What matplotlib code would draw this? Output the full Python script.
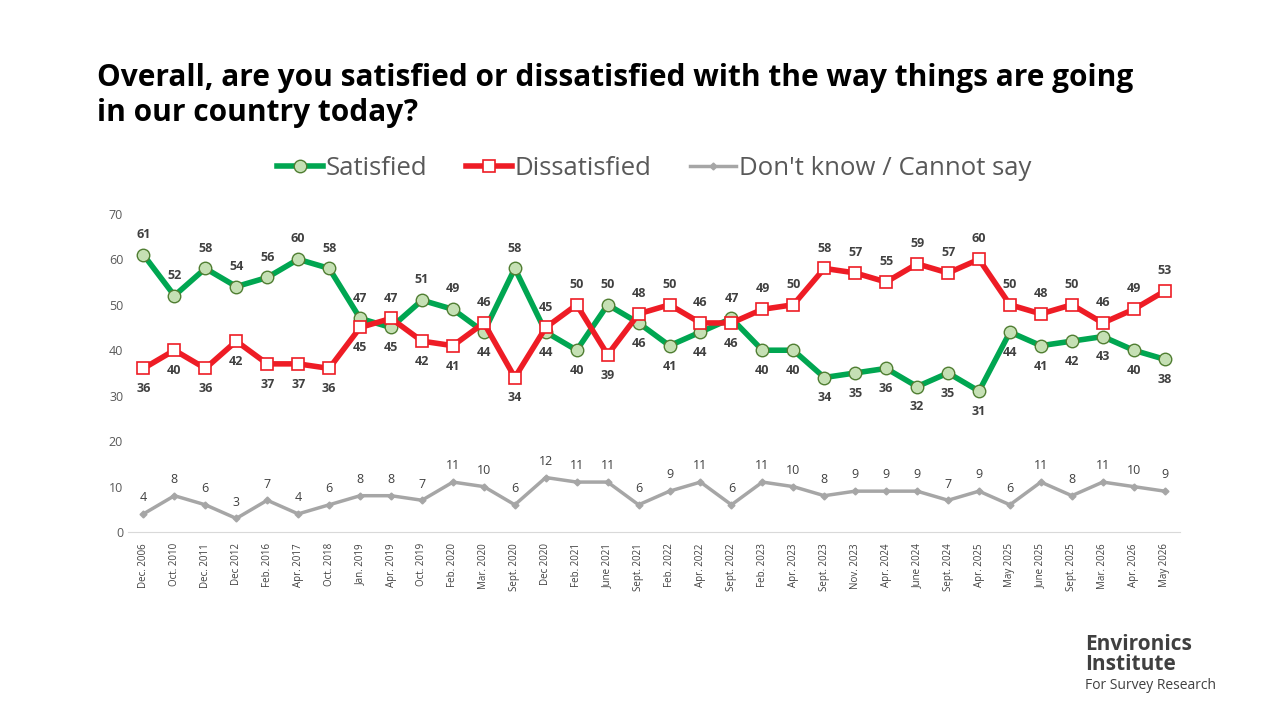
import numpy as np
import matplotlib.pyplot as plt

plt.rcParams['font.family'] = ['Open Sans', 'DejaVu Sans']

dates = ["Dec. 2006", "Oct. 2010", "Dec. 2011", "Dec 2012", "Feb. 2016", "Apr. 2017",
         "Oct. 2018", "Jan. 2019", "Apr. 2019", "Oct. 2019", "Feb. 2020", "Mar. 2020",
         "Sept. 2020", "Dec 2020", "Feb. 2021", "June 2021", "Sept. 2021", "Feb. 2022",
         "Apr. 2022", "Sept. 2022", "Feb. 2023", "Apr. 2023", "Sept. 2023", "Nov. 2023",
         "Apr. 2024", "June 2024", "Sept. 2024", "Apr. 2025", "May 2025", "June 2025",
         "Sept. 2025", "Mar. 2026", "Apr. 2026", "May 2026"]
satisfied = [61, 52, 58, 54, 56, 60, 58, 47, 45, 51, 49, 44, 58, 44, 40, 50, 46, 41,
             44, 47, 40, 40, 34, 35, 36, 32, 35, 31, 44, 41, 42, 43, 40, 38]
dissatisfied = [36, 40, 36, 42, 37, 37, 36, 45, 47, 42, 41, 46, 34, 45, 50, 39, 48, 50,
                46, 46, 49, 50, 58, 57, 55, 59, 57, 60, 50, 48, 50, 46, 49, 53]
dont_know = [4, 8, 6, 3, 7, 4, 6, 8, 8, 7, 11, 10, 6, 12, 11, 11, 6, 9, 11, 6, 11, 10,
             8, 9, 9, 9, 7, 9, 6, 11, 8, 11, 10, 9]

x = np.arange(len(dates))
green, red, grey = '#00A651', '#EE1C25', '#A6A6A6'

fig = plt.figure(figsize=(12.8, 7.2), dpi=100)
ax = fig.add_axes([0.1, 0.261, 0.822, 0.442])

ax.plot(x, satisfied, color=green, lw=4, marker='o', ms=9, mfc='#C5E0B4',
        mec='#507E32', mew=1, label='Satisfied', zorder=3)
ax.plot(x, dissatisfied, color=red, lw=4, marker='s', ms=9, mfc='white',
        mec=red, mew=1.2, label='Dissatisfied', zorder=3)
ax.plot(x, dont_know, color=grey, lw=2.5, marker='D', ms=3.5, mfc=grey,
        mec=grey, label="Don't know / Cannot say", zorder=2)

for i in x:
    s, d = satisfied[i], dissatisfied[i]
    hi, lo = (s, d) if s >= d else (d, s)
    ax.annotate(str(hi), (i, hi), xytext=(0, 10), textcoords='offset points',
                ha='center', va='bottom', fontsize=9, fontweight='bold', color='#404040')
    ax.annotate(str(lo), (i, lo), xytext=(0, -10), textcoords='offset points',
                ha='center', va='top', fontsize=9, fontweight='bold', color='#404040')
    ax.annotate(str(dont_know[i]), (i, dont_know[i]), xytext=(0, 7),
                textcoords='offset points', ha='center', va='bottom', fontsize=9,
                color='#404040')

ax.set_xlim(-0.5, len(dates) - 0.5)
ax.set_ylim(0, 70)
ax.set_yticks(range(0, 71, 10))
ax.set_xticks(x)
ax.set_xticklabels(dates, rotation=90, fontsize=7, color='#404040')
ax.tick_params(axis='y', labelsize=9, labelcolor='#595959', length=0)
ax.tick_params(axis='x', length=0, pad=8)
for sp in ['top', 'right', 'left']:
    ax.spines[sp].set_visible(False)
ax.spines['bottom'].set_color('#D9D9D9')

ax.legend(loc='lower center', bbox_to_anchor=(0.5, 1.03), ncol=3, frameon=False,
          fontsize=18.5, labelcolor='#595959', handlelength=1.8, columnspacing=1.5,
          handletextpad=0.1)

fig.text(0.076, 0.913, "Overall, are you satisfied or dissatisfied with the way things are going\nin our country today?",
         fontsize=21.5, fontweight='bold', va='top', ha='left', linespacing=1.25)

fig.text(0.848, 0.062, "Environics\nInstitute", fontsize=15, fontweight='bold',
         color='#404040', ha='left', va='bottom', linespacing=0.95)
fig.text(0.848, 0.038, "For Survey Research", fontsize=10, color='#404040',
         ha='left', va='bottom')

fig.savefig('out.png', dpi=100)
